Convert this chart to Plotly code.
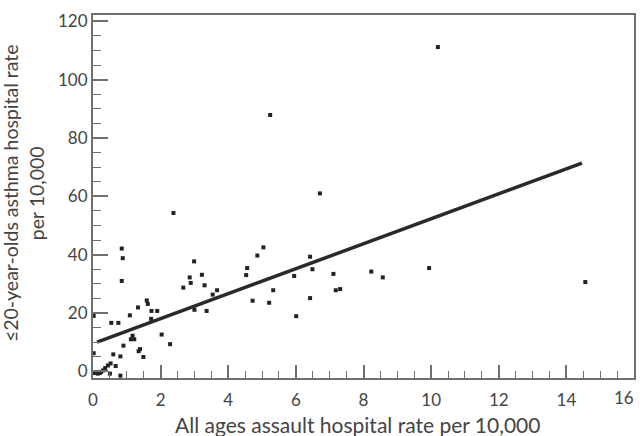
import plotly.graph_objects as go

# scatter data
assault_rate = [0.02, 0.08, 0.14, 0.20, 0.24, 0.30, 0.36, 0.44, 0.52, 0.67, 0.50, 0.81,
                0.02, 0.60, 0.81, 0.90,
                1.12, 1.22, 1.17,
                1.35, 1.39, 1.49,
                0.02, 0.54, 0.75,
                1.09, 1.33, 1.59, 1.62, 1.73, 1.90, 1.72,
                2.03, 2.28,
                0.85, 0.88, 0.85,
                2.38,
                2.67, 2.86, 2.89, 2.99, 3.22, 3.30,
                3.54, 3.67, 3.00, 3.36,
                4.53, 4.56, 4.72, 4.86, 5.04, 5.21, 5.24, 5.33,
                5.95, 6.01, 6.42, 6.49, 6.42, 6.71,
                7.11, 7.18, 7.31,
                8.23, 8.57, 9.94, 10.20, 14.56]
asthma_rate = [-0.6, -0.4, -0.8, -0.6, -0.2, 0.3, 1.1, 2.0, 2.7, 1.8, -0.8, -1.5,
               6.2, 5.8, 5.1, 8.8,
               11.0, 11.0, 12.2,
               6.9, 7.6, 4.9,
               19.0, 16.6, 16.6,
               19.2, 21.9, 24.3, 23.1, 20.7, 20.7, 18.0,
               12.6, 9.3,
               42.1, 38.8, 31.0,
               54.3,
               28.7, 32.2, 30.3, 37.7, 33.1, 29.5,
               26.3, 27.8, 21.1, 20.7,
               33.0, 35.4, 24.2, 39.7, 42.5, 23.5, 87.9, 27.8,
               32.7, 18.9, 39.3, 35.0, 25.1, 61.0,
               33.4, 27.8, 28.2,
               34.2, 32.2, 35.4, 111.2, 30.6]

# fitted regression line end points
fit_x = [0.12, 14.46]
fit_y = [10.0, 71.4]

x_ticks = [0, 2, 4, 6, 8, 10, 12, 14, 16]
x_tick_labels = ["0", "2", "4", "6", "8", "10", "12", "14", ""]
last_x_label = "16"
y_ticks = [0, 20, 40, 60, 80, 100, 120]

x_title = "All ages assault hospital rate per 10,000"
y_title = "≤20-year-olds asthma hospital rate<br>per 10,000"

FONT = "Lato, 'Open Sans', sans-serif"
AX = "#707070"
TXT = "#444444"

fig = go.Figure()
fig.add_trace(go.Scatter(x=fit_x, y=fit_y, mode="lines",
                         line=dict(color="#2a2a2a", width=3.5),
                         showlegend=False, hoverinfo="skip"))
fig.add_trace(go.Scatter(x=assault_rate, y=asthma_rate, mode="markers",
                         marker=dict(symbol="square", size=4, color="#222222",
                                     line=dict(width=0)),
                         showlegend=False))

fig.update_layout(
    width=640, height=436,
    margin=dict(l=93, r=6, t=15, b=58),
    paper_bgcolor="white", plot_bgcolor="white",
    font=dict(family=FONT, color=TXT, size=17),
    xaxis=dict(range=[0, 16], tickvals=x_ticks, ticktext=x_tick_labels,
               ticks="inside", ticklen=13, ticklabelstandoff=6,
               tickwidth=1.5, tickcolor=AX, showline=True, linecolor=AX,
               linewidth=2, mirror=True, showgrid=False, zeroline=False,
               automargin=False,
               tickfont=dict(size=17, color=TXT, family=FONT),
               minor=dict(dtick=0.5, ticks="inside", ticklen=7, tickcolor=AX,
                          tickwidth=1.2, showgrid=False)),
    yaxis=dict(range=[-2.3, 122.2], tickvals=y_ticks, ticks="inside", ticklen=15,
               tickwidth=1.5, tickcolor=AX, showline=True, linecolor=AX,
               linewidth=2, mirror=True, showgrid=False, zeroline=False,
               automargin=False,
               tickfont=dict(size=17, color=TXT, family=FONT),
               minor=dict(dtick=5, ticks="inside", ticklen=8, tickcolor=AX,
                          tickwidth=1.2, showgrid=False)),
    annotations=[
        dict(text=last_x_label, xref="x", yref="paper", x=x_ticks[-1], y=0,
             yshift=-19, xshift=2, xanchor="right", yanchor="middle", showarrow=False,
             font=dict(size=17, color=TXT, family=FONT)),
        dict(text=x_title, xref="paper", yref="paper", x=0.489, y=-0.127,
             xanchor="center", yanchor="middle", showarrow=False,
             font=dict(size=21, color=TXT, family=FONT)),
        dict(text=y_title, xref="paper", yref="paper", x=-0.129, y=0.51,
             xanchor="center", yanchor="middle", showarrow=False, textangle=-90,
             font=dict(size=19.5, color=TXT, family=FONT)),
    ],
)

fig.write_html("out.html", config={"displayModeBar": False},
               post_script="document.body.style.margin='0px';")
